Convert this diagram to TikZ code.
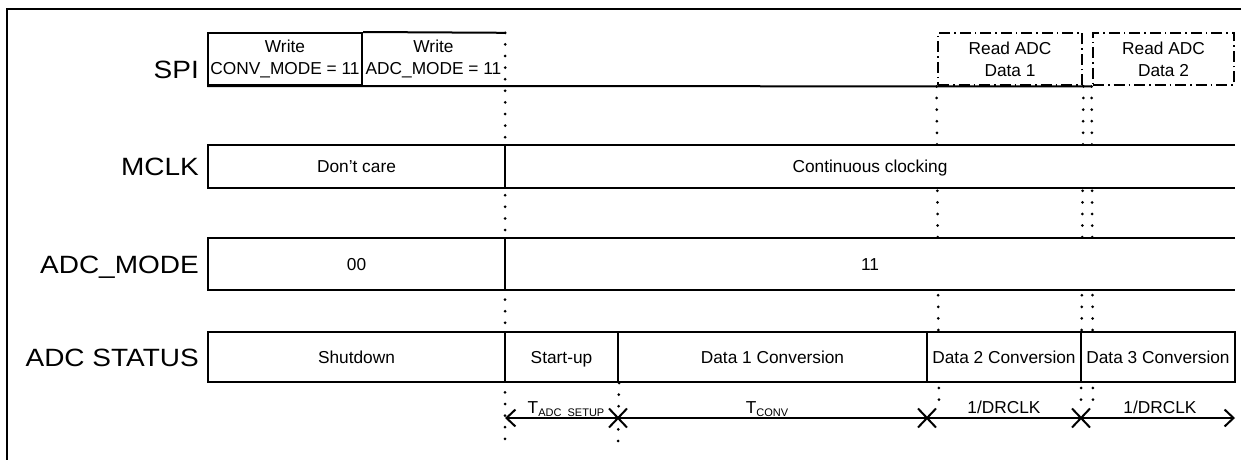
\documentclass[tikz,border=0pt]{standalone}
\usepackage{fontspec}
\setmainfont{Liberation Sans}
\usetikzlibrary{arrows.meta,shapes.misc}
\pgfdeclarelayer{bg}
\pgfsetlayers{bg,main}
\newcommand{\wide}[1]{\scalebox{1.12}[1]{#1}}
\begin{document}
\begin{tikzpicture}[x=1pt,y=-1pt,
  lbl/.style={anchor=base east, inner sep=0pt, font=\fontsize{25}{28}\selectfont},
  cell/.style={draw, line width=2pt, fill=white, inner sep=0pt, align=center,
    font=\fontsize{17.3}{22}\selectfont},
  one/.style={text height=12.4pt, text depth=0pt},
  open/.style={fill=white, inner sep=0pt, align=center, font=\fontsize{17.3}{22}\selectfont,
    text height=12.4pt, text depth=0pt},
  edge/.style={line width=2pt},
  dotline/.style={line width=3pt, dash pattern=on 0pt off 11.6pt, line cap=round},
  dashdot/.style={draw, line width=2.8pt, dash pattern=on 11pt off 4pt on 1.5pt off 4pt,
    inner sep=0pt, align=center, font=\fontsize{17.3}{22}\selectfont},
  xmark/.style={draw, cross out, line width=2pt, minimum width=16pt, minimum height=17pt, inner sep=0pt},
  tlab/.style={anchor=base, inner sep=0pt, font=\fontsize{17.3}{20}\selectfont}
]
\useasboundingbox (0,0) rectangle (1251,460);
% frame
\coordinate (fTR) at (1241,9);
\coordinate (fTL) at (7,9);
\coordinate (fBL) at (7,460);
\draw[line width=2.2pt] (fTR) -- (fTL) -- (fBL);

% row labels
\node[lbl] (lspi) at (199,79) {\wide{SPI}};
\node[lbl] (lmclk) at (199,175.5) {\wide{MCLK}};
\node[lbl] (lmode) at (199,273) {\wide{ADC\_MODE}};
\node[lbl] (lstat) at (199,366) {\wide{ADC STATUS}};

% SPI row
\node[cell, minimum width=154pt, minimum height=52pt] (s1) at (285,59) {Write\\CONV\_MODE = 11};
\node[inner sep=0pt, minimum width=143pt, minimum height=52pt, align=center,
  font=\fontsize{17.3}{22}\selectfont] (s2) at (433.5,59) {Write\\ADC\_MODE = 11};
\draw[edge] (s1.north east) -- (s2.north east);
\node[dashdot, minimum width=144pt, minimum height=52pt] (rd1) at (1010,59) {Read ADC\\Data 1};
\node[dashdot, minimum width=141pt, minimum height=52pt] (rd2) at (1163.5,59) {Read ADC\\Data 2};
\draw[edge] (s1.south west) -- (rd2.south west);

% MCLK row
\node[cell, one, minimum width=297pt, minimum height=43pt] (m1) at (356.5,166.5) {Don't care};
\node[open, minimum width=730pt, minimum height=43pt] (m2) at (870,166.5) {Continuous clocking};
\draw[edge] (m2.north east) -- (m2.north west) -- (m2.south west) -- (m2.south east);

% ADC_MODE row
\node[cell, one, minimum width=297pt, minimum height=52pt] (a1) at (356.5,264) {00};
\node[open, minimum width=730pt, minimum height=52pt] (a2) at (870,264) {11};
\draw[edge] (a2.north east) -- (a2.north west) -- (a2.south west) -- (a2.south east);

% ADC STATUS row
\node[cell, one, minimum width=297pt, minimum height=50pt] (t1) at (356.5,357) {Shutdown};
\node[cell, one, minimum width=113pt, minimum height=50pt] (t2) at (561.5,357) {Start-up};
\node[cell, one, minimum width=309pt, minimum height=50pt] (t3) at (772.5,357) {Data 1 Conversion};
\node[cell, one, minimum width=154pt, minimum height=50pt] (t4) at (1004,357) {Data 2 Conversion};
\node[cell, one, minimum width=154pt, minimum height=50pt] (t5) at (1158,357) {Data 3 Conversion};

% timing row
\coordinate (aL) at (505,418);
\coordinate (aR) at (1235,418);
\coordinate (b505) at (505,445);
\coordinate (b618) at (618,445);
\coordinate (b939) at (939,408);
\coordinate (b1081) at (1081,408);
\coordinate (b1093) at (1093,408);
\draw[edge, {Straight Barb[length=9pt,width=17pt]}-{Straight Barb[length=9pt,width=17pt]}] (aL) -- (aR);
\node[xmark] (x1) at (618,418) {};
\node[xmark] (x2) at (927,418) {};
\node[xmark] (x3) at (1081,418) {};

\node[tlab] (tsetup) at (566,413) {T\raisebox{-3pt}{\fontsize{11}{12}\selectfont ADC\_SETUP}};
\node[tlab] (tconv) at (767,413) {T\raisebox{-3pt}{\fontsize{11}{12}\selectfont CONV}};
\node[tlab] (dr1) at (1004,413) {1/DRCLK};
\node[tlab] (dr2) at (1160,413) {1/DRCLK};

% dotted guides
\begin{pgfonlayer}{bg}
\draw[dotline] (s2.north east) -- (b505);
\draw[dotline] (t2.south east) -- (b618);
\draw[dotline] (rd1.south west) -- (b939);
\draw[dotline] (rd1.south east) -- (b1081);
\draw[dotline] (rd2.south west) -- (b1093);
\end{pgfonlayer}
\end{tikzpicture}
\end{document}
